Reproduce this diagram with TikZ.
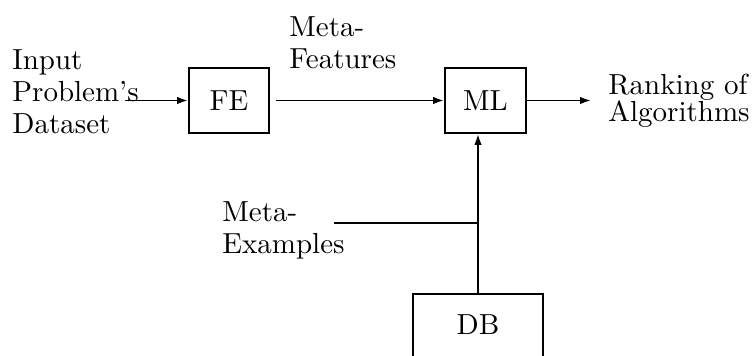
\documentclass[tikz,border=0pt]{standalone}
\usepackage{fontspec}
\setmainfont{lmroman10-regular}[Extension=.otf]
\usetikzlibrary{arrows.meta}
\begin{document}
\begin{tikzpicture}[x=0.5pt,y=-0.5pt,
  txt/.style={font=\fontsize{14.5}{16}\selectfont},
  blockbox/.style={draw,line width=0.95pt,inner sep=0pt,txt},
  lbl/.style={anchor=north west,inner sep=0pt,align=left,txt},
  flow/.style={line width=0.95pt,-{Latex[length=5.5pt,width=3.8pt]}},
  plain/.style={line width=0.95pt}]
\useasboundingbox (0,0) rectangle (752,356);
\begin{scope}
\clip (0,0) rectangle (752,356);
% blocks
\node[blockbox,minimum width=40pt,minimum height=32.5pt] (fe) at (229,100.5) {FE};
\node[blockbox,minimum width=40.5pt,minimum height=32.5pt] (ml) at (485.5,100.5) {ML};
\node[blockbox,minimum width=65pt,minimum height=40pt,anchor=north] (db) at (478,293) {};
\node[txt] (dbt) at (478,325) {DB};
% labels
\node[lbl] (inp) at (12,49) {Input\\Problem's\\Dataset};
\node[lbl] (mf) at (289,16) {Meta-\\Features};
\node[lbl,font=\fontsize{14.5}{13.5}\selectfont] (rank) at (608,74) {Ranking of\\Algorithms};
\node[lbl] (me) at (222,201) {Meta-\\Examples};
% connectors
\coordinate (inStart) at (125,100.5);
\coordinate (feOut) at (276,100.5);
\coordinate (mlOut) at (591,100.5);
\coordinate (meStart) at (334,223);
\coordinate (join) at (db.north |- meStart);
\draw[flow] (inStart) -- (fe.west);
\draw[flow] (feOut) -- (ml.west);
\draw[flow] (ml.east) -- (mlOut);
\draw[flow] (db.north) -- (db.north |- ml.south);
\draw[plain] (meStart) -- (join);
\end{scope}
\end{tikzpicture}
\end{document}
